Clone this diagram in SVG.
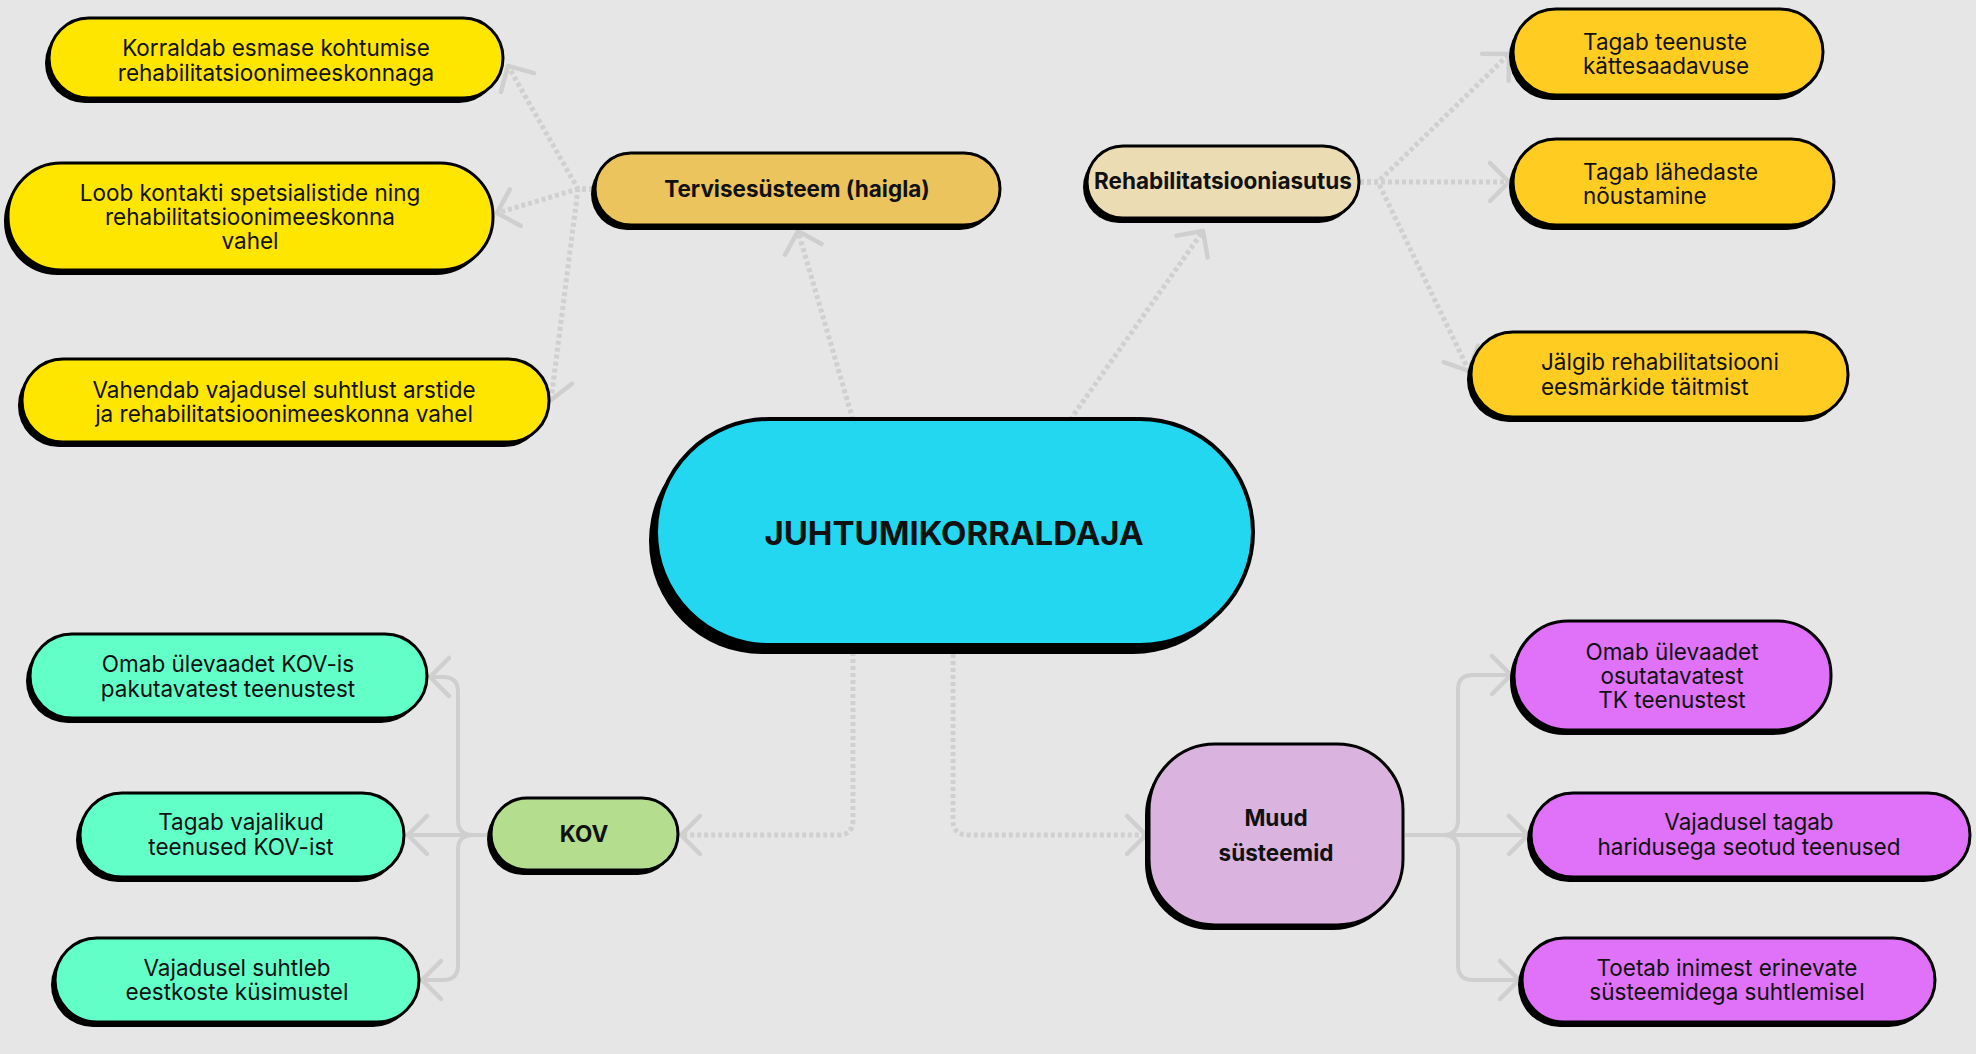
<svg xmlns="http://www.w3.org/2000/svg" width="1976" height="1054" viewBox="0 0 1976 1054">
  <defs>
    <style>
      .bg { fill: #e6e6e6; }
      .shadow { fill: #000; }
      .box { stroke: #000; stroke-width: 3; }
      .txt { font-family: Inter, "Liberation Sans", sans-serif; font-size: 22.5px; fill: #111; }
      .mid { text-anchor: middle; }
      .b { font-weight: 700; }
      .big { font-size: 33px; }
      .dot { fill: none; stroke: #d0d0d0; stroke-width: 5; stroke-dasharray: 4 3; }
      .solid { fill: none; stroke: #cfcfcf; stroke-width: 4; stroke-linejoin: round; }
      .c-yellow { fill: #ffe600; }
      .c-gold { fill: #ffcd22; }
      .c-health { fill: #ecc45e; }
      .c-rehab { fill: #ecdcb4; }
      .c-main { fill: #22d7ef; }
      .c-kov { fill: #b4dd8e; }
      .c-mint { fill: #63ffc9; }
      .c-other { fill: #dab4de; }
      .c-purple { fill: #df72f8; }
    </style>
    <marker id="chev" viewBox="-24 -24 28 48" markerWidth="28" markerHeight="48" refX="0" refY="0" orient="auto" markerUnits="userSpaceOnUse">
      <path d="M -19 -19 L 0 0 L -19 19" fill="none" stroke="#cfcfcf" stroke-width="4.5" stroke-linecap="round" stroke-linejoin="round"/>
    </marker>
  </defs>

  <rect class="bg" x="0" y="0" width="1976" height="1054"/>

  <!-- connectors -->
  <g id="connectors">
    <!-- centre to upper systems -->
    <path class="dot" d="M 853 420 L 798 231" marker-end="url(#chev)"/>
    <path class="dot" d="M 1070 420 L 1203 231" marker-end="url(#chev)"/>
    <!-- health system tasks -->
    <path class="dot" d="M 593 189 H 578 L 508 66" marker-end="url(#chev)"/>
    <path class="dot" d="M 593 189 H 578 L 497 213" marker-end="url(#chev)"/>
    <path class="dot" d="M 593 189 H 578 L 551 400" marker-end="url(#chev)"/>
    <!-- rehabilitation institution tasks -->
    <path class="dot" d="M 1360 182 H 1378 L 1509 54" marker-end="url(#chev)"/>
    <path class="dot" d="M 1360 182 L 1509 182" marker-end="url(#chev)"/>
    <path class="dot" d="M 1360 182 H 1378 L 1469 371" marker-end="url(#chev)"/>
    <!-- centre to lower systems -->
    <path class="dot" d="M 853 652 V 820 Q 853 835 838 835 H 681" marker-end="url(#chev)"/>
    <path class="dot" d="M 953 654 V 820 Q 953 835 968 835 H 1146" marker-end="url(#chev)"/>
    <!-- KOV tree -->
    <path class="solid" d="M 489 835 H 473 Q 458 835 458 820 V 692 Q 458 677 443 677 H 430" marker-end="url(#chev)"/>
    <path class="solid" d="M 489 835 H 408" marker-end="url(#chev)"/>
    <path class="solid" d="M 489 835 H 473 Q 458 835 458 850 V 965 Q 458 980 443 980 H 422" marker-end="url(#chev)"/>
    <!-- other systems tree -->
    <path class="solid" d="M 1405 835 H 1443 Q 1458 835 1458 820 V 690 Q 1458 675 1473 675 H 1511" marker-end="url(#chev)"/>
    <path class="solid" d="M 1405 835 H 1528" marker-end="url(#chev)"/>
    <path class="solid" d="M 1405 835 H 1443 Q 1458 835 1458 850 V 965 Q 1458 980 1473 980 H 1519" marker-end="url(#chev)"/>
  </g>

  <!-- left health-system tasks -->
  <g id="korraldab">
    <rect class="shadow" x="45" y="23" width="454" height="80" rx="40"/>
    <rect class="box c-yellow" x="49" y="18" width="454" height="80" rx="40"/>
    <text class="txt mid" x="276" y="56">Korraldab esmase kohtumise</text>
    <text class="txt mid" x="276" y="81">rehabilitatsioonimeeskonnaga</text>
  </g>
  <g id="loob">
    <rect class="shadow" x="4" y="168" width="485" height="107" rx="53"/>
    <rect class="box c-yellow" x="8" y="163" width="485" height="107" rx="53"/>
    <text class="txt mid" x="250" y="201">Loob kontakti spetsialistide ning</text>
    <text class="txt mid" x="250" y="225">rehabilitatsioonimeeskonna</text>
    <text class="txt mid" x="250" y="249">vahel</text>
  </g>
  <g id="vahendab">
    <rect class="shadow" x="18" y="364" width="527" height="83" rx="41"/>
    <rect class="box c-yellow" x="22" y="359" width="527" height="83" rx="41"/>
    <text class="txt mid" x="284" y="398">Vahendab vajadusel suhtlust arstide</text>
    <text class="txt mid" x="284" y="422"> ja rehabilitatsioonimeeskonna vahel</text>
  </g>

  <!-- upper systems -->
  <g id="tervis">
    <rect class="shadow" x="591" y="158" width="405" height="72" rx="36"/>
    <rect class="box c-health" x="595" y="153" width="405" height="72" rx="36"/>
    <text class="txt mid b" x="797" y="197">Tervisesüsteem (haigla)</text>
  </g>
  <g id="rehab">
    <rect class="shadow" x="1083" y="151" width="272" height="72" rx="36"/>
    <rect class="box c-rehab" x="1087" y="146" width="272" height="72" rx="36"/>
    <text class="txt mid b" x="1223" y="189">Rehabilitatsiooniasutus</text>
  </g>

  <!-- right rehabilitation tasks -->
  <g id="teenuste">
    <rect class="shadow" x="1509" y="14" width="310" height="86" rx="43"/>
    <rect class="box c-gold" x="1513" y="9" width="310" height="86" rx="43"/>
    <text class="txt" x="1583" y="50">Tagab teenuste</text>
    <text class="txt" x="1583" y="74">kättesaadavuse</text>
  </g>
  <g id="lahedaste">
    <rect class="shadow" x="1509" y="144" width="321" height="86" rx="43"/>
    <rect class="box c-gold" x="1513" y="139" width="321" height="86" rx="43"/>
    <text class="txt" x="1583" y="180">Tagab lähedaste</text>
    <text class="txt" x="1583" y="204">nõustamine</text>
  </g>
  <g id="jalgib">
    <rect class="shadow" x="1467" y="337" width="377" height="85" rx="42"/>
    <rect class="box c-gold" x="1471" y="332" width="377" height="85" rx="42"/>
    <text class="txt" x="1541" y="370">Jälgib rehabilitatsiooni</text>
    <text class="txt" x="1541" y="395">eesmärkide täitmist</text>
  </g>

  <!-- centre -->
  <g id="juhtumikorraldaja">
    <rect class="shadow" x="649" y="428" width="597" height="226" rx="113"/>
    <rect class="box c-main" x="656" y="419" width="597" height="226" rx="113" style="stroke-width:4"/>
    <text class="txt mid b big" x="954" y="545">JUHTUMIKORRALDAJA</text>
  </g>

  <!-- KOV branch -->
  <g id="kov">
    <rect class="shadow" x="487" y="803" width="187" height="72" rx="36"/>
    <rect class="box c-kov" x="491" y="798" width="187" height="72" rx="36"/>
    <text class="txt mid b" x="584" y="842">KOV</text>
  </g>
  <g id="kov-ulevaade">
    <rect class="shadow" x="26" y="639" width="397" height="84" rx="42"/>
    <rect class="box c-mint" x="30" y="634" width="397" height="84" rx="42"/>
    <text class="txt mid" x="228" y="672">Omab ülevaadet KOV-is</text>
    <text class="txt mid" x="228" y="697">pakutavatest teenustest</text>
  </g>
  <g id="kov-teenused">
    <rect class="shadow" x="76" y="798" width="324" height="84" rx="42"/>
    <rect class="box c-mint" x="80" y="793" width="324" height="84" rx="42"/>
    <text class="txt mid" x="241" y="830">Tagab vajalikud</text>
    <text class="txt mid" x="241" y="855">teenused KOV-ist</text>
  </g>
  <g id="kov-eestkoste">
    <rect class="shadow" x="51" y="943" width="364" height="84" rx="42"/>
    <rect class="box c-mint" x="55" y="938" width="364" height="84" rx="42"/>
    <text class="txt mid" x="237" y="976">Vajadusel suhtleb</text>
    <text class="txt mid" x="237" y="1000">eestkoste küsimustel</text>
  </g>

  <!-- other systems branch -->
  <g id="muud">
    <rect class="shadow" x="1145" y="749" width="254" height="181" rx="66"/>
    <rect class="box c-other" x="1149" y="744" width="254" height="181" rx="66"/>
    <text class="txt mid b" x="1276" y="826">Muud</text>
    <text class="txt mid b" x="1276" y="861">süsteemid</text>
  </g>
  <g id="tk-teenused">
    <rect class="shadow" x="1510" y="626" width="317" height="109" rx="54"/>
    <rect class="box c-purple" x="1514" y="621" width="317" height="109" rx="54"/>
    <text class="txt mid" x="1672" y="660">Omab ülevaadet</text>
    <text class="txt mid" x="1672" y="684">osutatavatest</text>
    <text class="txt mid" x="1672" y="708">TK teenustest</text>
  </g>
  <g id="haridus">
    <rect class="shadow" x="1527" y="798" width="439" height="84" rx="42"/>
    <rect class="box c-purple" x="1531" y="793" width="439" height="84" rx="42"/>
    <text class="txt mid" x="1749" y="830">Vajadusel tagab</text>
    <text class="txt mid" x="1749" y="855">haridusega seotud teenused</text>
  </g>
  <g id="toetab">
    <rect class="shadow" x="1518" y="943" width="413" height="84" rx="42"/>
    <rect class="box c-purple" x="1522" y="938" width="413" height="84" rx="42"/>
    <text class="txt mid" x="1727" y="976">Toetab inimest erinevate</text>
    <text class="txt mid" x="1727" y="1000">süsteemidega suhtlemisel</text>
  </g>
</svg>
